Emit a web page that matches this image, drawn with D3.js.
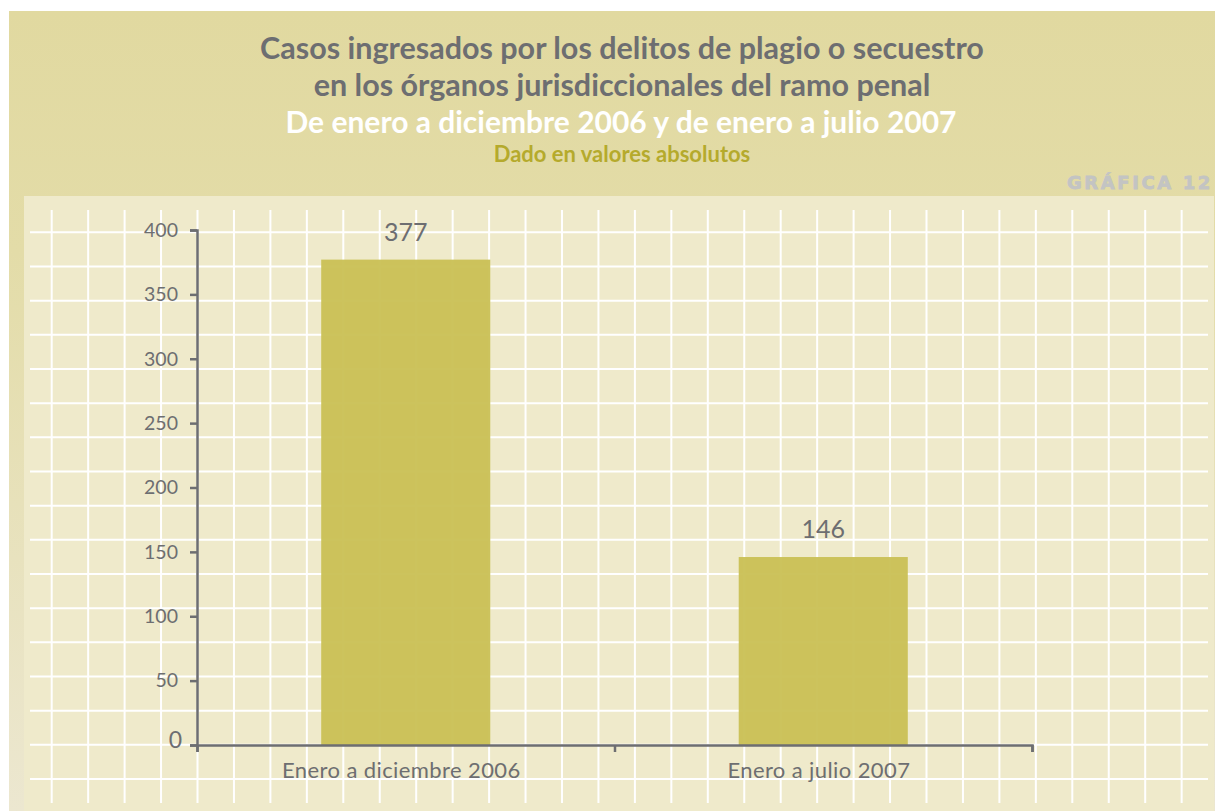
<!DOCTYPE html>
<meta charset="utf-8">
<style>
body{margin:0;background:#fff;}
svg{display:block;font-family:Lato,"Open Sans",sans-serif;}
.axis path,.axis line{stroke:#6d6e71;stroke-width:2.5;}
.axis text{fill:#6d6e71;font-family:Lato,sans-serif;}
</style>
<svg width="1215" height="811"></svg>
<script src="https://d3js.org/d3.v7.min.js"></script>
<script>
// data
var categories = ["Enero a diciembre 2006", "Enero a julio 2007"];
var values = [377, 146];
var yTicks = [0, 50, 100, 150, 200, 250, 300, 350, 400];
var titleLines = [
  "Casos ingresados por los delitos de plagio o secuestro",
  "en los órganos jurisdiccionales del ramo penal",
  "De enero a diciembre 2006 y de enero a julio 2007"
];
var subTitle = "Dado en valores absolutos";
var badge = "GRÁFICA 12";

var svg = d3.select("svg");

// backgrounds
var defs = svg.append("defs");
var grad = defs.append("linearGradient").attr("id", "outer").attr("x1", 0).attr("y1", 0).attr("x2", 0).attr("y2", 1);
grad.append("stop").attr("offset", "0%").attr("stop-color", "#e1d9a0");
grad.append("stop").attr("offset", "30%").attr("stop-color", "#e3dca8");
grad.append("stop").attr("offset", "100%").attr("stop-color", "#ece7d0");

svg.append("rect").attr("x", 9).attr("y", 11).attr("width", 1206).attr("height", 800).attr("fill", "url(#outer)");
svg.append("rect").attr("x", 24).attr("y", 196).attr("width", 1190).attr("height", 615).attr("fill", "#efeacb");

// decorative grid paper
var grid = svg.append("g").attr("stroke", "#fff").attr("stroke-width", 2);
d3.range(32).forEach(function(i){
  var x = 51.7 + i * 36.45;
  grid.append("line").attr("x1", x).attr("x2", x).attr("y1", 210).attr("y2", 803);
});
d3.range(17).forEach(function(i){
  var y = 232.3 + i * 34.17;
  grid.append("line").attr("x1", 30).attr("x2", 1208).attr("y1", y).attr("y2", y);
});

// titles
var t = svg.append("g").attr("text-anchor", "middle").attr("font-family", "Lato,sans-serif").attr("font-weight", "bold");
t.append("text").attr("x", 622).attr("y", 59).attr("font-size", 30.5).attr("fill", "#6d6e71").text(titleLines[0]);
t.append("text").attr("x", 622).attr("y", 96).attr("font-size", 30.5).attr("fill", "#6d6e71").text(titleLines[1]);
t.append("text").attr("x", 621).attr("y", 133).attr("font-size", 30).attr("fill", "#ffffff").text(titleLines[2]);
t.append("text").attr("x", 622).attr("y", 162).attr("font-size", 22).attr("fill", "#b5aa2c").text(subTitle);

svg.append("text").attr("x", 1213).attr("y", 189).attr("text-anchor", "end")
  .attr("font-family", "'DejaVu Sans',sans-serif").attr("font-weight", "bold").attr("font-size", 18)
  .attr("letter-spacing", 2.6).attr("fill", "#c3c4c3").attr("stroke", "#c3c4c3").attr("stroke-width", 0.8)
  .text(badge);

// scales
var x = d3.scaleBand().domain(categories).range([197, 1032]).padding(0);
var xEdge = d3.scaleLinear().domain([0, categories.length]).range([197, 1032]);
var y = d3.scaleLinear().domain([0, 400]).range([745, 230]);

var barW = x.bandwidth() * 0.405;

// bars
svg.append("g").selectAll("rect")
  .data(values)
  .enter().append("rect")
  .attr("x", function(d, i){ return x(categories[i]) + (x.bandwidth() - barW) / 2; })
  .attr("y", function(d){ return y(d); })
  .attr("width", barW)
  .attr("height", function(d){ return y(0) - y(d); })
  .attr("fill", "#c9c054")
  .attr("fill-opacity", 0.95);

// value labels
svg.append("g").selectAll("text")
  .data(values)
  .enter().append("text")
  .attr("x", function(d, i){ return x(categories[i]) + x.bandwidth() / 2; })
  .attr("y", function(d){ return y(d) - 19; })
  .attr("text-anchor", "middle")
  .attr("font-size", 25)
  .attr("fill", "#6d6e71")
  .text(function(d){ return d; });

// y axis
var yAxis = svg.append("g").attr("class", "axis").attr("transform", "translate(197,0)")
  .call(d3.axisLeft(y).tickValues(yTicks).tickSize(7).tickPadding(12));
yAxis.selectAll("text").attr("font-size", 19.5);
yAxis.selectAll(".tick").filter(function(d){ return d === 0; }).select("text")
  .attr("font-size", 23).attr("fill", "#231f20").attr("dy", "0.1em").attr("x", -15);

// x axis: boundary ticks + centred labels
svg.append("g").attr("class", "axis").attr("transform", "translate(0,745)")
  .call(d3.axisBottom(xEdge).tickValues(d3.range(categories.length + 1)).tickSize(7).tickFormat(""));
var xAxis = svg.append("g").attr("class", "axis").attr("transform", "translate(0,745)")
  .call(d3.axisBottom(x).tickSize(0).tickPadding(17));
xAxis.select(".domain").remove();
xAxis.selectAll("text").attr("font-size", 22).attr("letter-spacing", 0.4).attr("dx", "-0.2em");
</script>
</html>
